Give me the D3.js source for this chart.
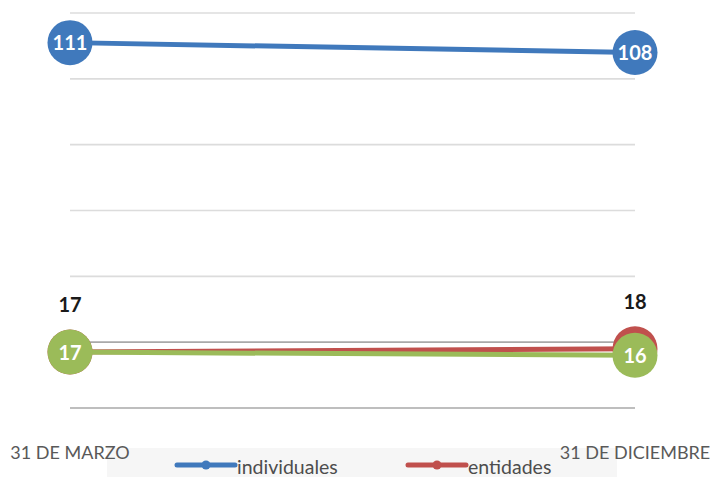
<!DOCTYPE html>
<html>
<head>
<meta charset="utf-8">
<script src="https://cdn.jsdelivr.net/npm/d3@7"></script>
<style>
  body { margin: 0; background: #fff; }
  svg { display: block; font-family: Lato, "Open Sans", sans-serif; }
</style>
</head>
<body>
<svg id="chart" width="711" height="477"></svg>
<script>
    // data
    var categories = ["31 DE MARZO", "31 DE DICIEMBRE"];
    var individuales = [111, 108];
    var entidades = [17, 18];
    var otros = [17, 16];
    var seriesNames = ["individuales", "entidades", "otros"];
    var gridTicks = [0, 20, 40, 60, 80, 100, 120];

    var colors = { individuales: "#4079bc", entidades: "#c0504d", otros: "#9bbb59" };

    var series = [
        { name: "individuales", values: individuales, labelInside: true },
        { name: "entidades", values: entidades, labelInside: false },
        { name: "otros", values: otros, labelInside: true }
    ];

    var width = 711, height = 477;
    var svg = d3.select("#chart");

    var xScale = d3.scalePoint()
        .domain(categories)
        .range([70, 635]);

    var yScale = d3.scaleLinear()
        .domain([0, 120])
        .range([408, 13]);

    // ============ GRIDLINES ============
    svg.append("g")
        .selectAll("line")
        .data(gridTicks)
        .enter().append("line")
        .attr("x1", xScale.range()[0])
        .attr("x2", xScale.range()[1])
        .attr("y1", function (d) { return yScale(d); })
        .attr("y2", function (d) { return yScale(d); })
        .attr("stroke", function (d) { return d <= 20 ? "#a9a9a9" : "#dcdcdc"; })
        .attr("stroke-width", 1.6);

    // ============ LEGEND BOX ============
    svg.append("rect")
        .attr("x", 107).attr("y", 448)
        .attr("width", 510).attr("height", 29)
        .attr("fill", "#f6f6f6");

    // ============ CATEGORY LABELS ============
    svg.append("g")
        .selectAll("text")
        .data(categories)
        .enter().append("text")
        .attr("x", function (d) { return xScale(d); })
        .attr("y", 459)
        .attr("text-anchor", "middle")
        .attr("fill", "#595959")
        .style("font-size", "18px")
        .text(function (d) { return d; });

    // ============ LINES + MARKERS ============
    var line = d3.line()
        .x(function (d, i) { return xScale(categories[i]); })
        .y(function (d) { return yScale(d); });

    var groups = svg.selectAll(".series")
        .data(series)
        .enter().append("g")
        .attr("class", "series");

    groups.append("path")
        .attr("d", function (d) { return line(d.values); })
        .attr("fill", "none")
        .attr("stroke", function (d) { return colors[d.name]; })
        .attr("stroke-width", 5);

    groups.selectAll("circle")
        .data(function (d) { return d.values.map(function (v, i) { return { s: d, v: v, i: i }; }); })
        .enter().append("circle")
        .attr("cx", function (d) { return xScale(categories[d.i]); })
        .attr("cy", function (d) { return yScale(d.v); })
        .attr("r", 22.5)
        .attr("fill", function (d) { return colors[d.s.name]; });

    groups.selectAll("text")
        .data(function (d) { return d.values.map(function (v, i) { return { s: d, v: v, i: i }; }); })
        .enter().append("text")
        .attr("x", function (d) { return xScale(categories[d.i]); })
        .attr("y", function (d) { return d.s.labelInside ? yScale(d.v) + 7.5 : yScale(d.v) - 40; })
        .attr("text-anchor", "middle")
        .attr("fill", function (d) { return d.s.labelInside ? "#fff" : "#1a1a1a"; })
        .style("font-size", "20px")
        .style("font-weight", "bold")
        .text(function (d) { return d.v; });

    // ============ LEGEND ============
    var legendItems = [
        { name: seriesNames[0], x: 177 },
        { name: seriesNames[1], x: 408 }
    ];

    var legend = svg.selectAll(".legend")
        .data(legendItems)
        .enter().append("g")
        .attr("class", "legend")
        .attr("transform", function (d) { return "translate(" + d.x + ",465)"; });

    legend.append("line")
        .attr("x1", 0).attr("x2", 58)
        .attr("stroke", function (d) { return colors[d.name]; })
        .attr("stroke-width", 5)
        .attr("stroke-linecap", "round");

    legend.append("circle")
        .attr("cx", 29).attr("r", 4.5)
        .attr("fill", function (d) { return colors[d.name]; });

    legend.append("text")
        .attr("x", 60).attr("y", 9)
        .attr("fill", "#4d4d4d")
        .style("font-size", "19.5px")
        .text(function (d) { return d.name; });
</script>
</body>
</html>
